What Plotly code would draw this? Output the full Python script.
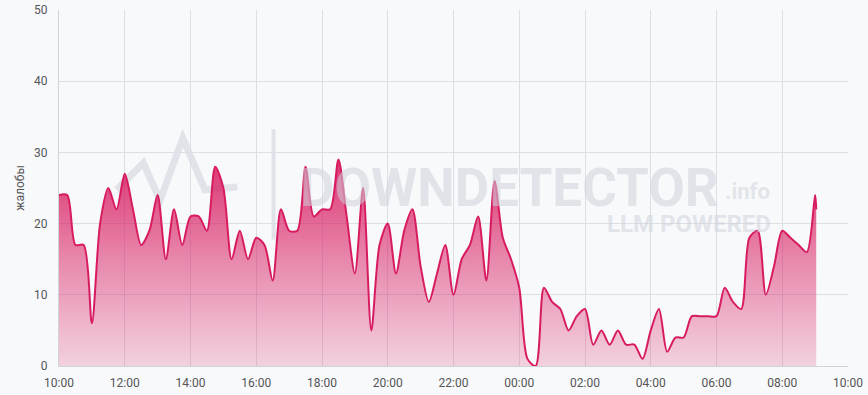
import plotly.graph_objects as go

times = [
    "10:00", "10:15", "10:30", "10:45", "11:00", "11:15", "11:30", "11:45",
    "12:00", "12:15", "12:30", "12:45", "13:00", "13:15", "13:30", "13:45",
    "14:00", "14:15", "14:30", "14:45", "15:00", "15:15", "15:30", "15:45",
    "16:00", "16:15", "16:30", "16:45", "17:00", "17:15", "17:30", "17:45",
    "18:00", "18:15", "18:30", "18:45", "19:00", "19:15", "19:30", "19:45",
    "20:00", "20:15", "20:30", "20:45", "21:00", "21:15", "21:30", "21:45",
    "22:00", "22:15", "22:30", "22:45", "23:00", "23:15", "23:30", "23:45",
    "00:00", "00:15", "00:30", "00:45", "01:00", "01:15", "01:30", "01:45",
    "02:00", "02:15", "02:30", "02:45", "03:00", "03:15", "03:30", "03:45",
    "04:00", "04:15", "04:30", "04:45", "05:00", "05:15", "05:30", "05:45",
    "06:00", "06:15", "06:30", "06:45", "07:00", "07:15", "07:30", "07:45",
    "08:00", "08:15", "08:30", "08:45", "09:00", "09:02",
]
complaints = [
    24, 24, 17, 17, 6, 20, 25, 22,
    27, 22, 17, 19, 24, 15, 22, 17,
    21, 21, 19, 28, 25, 15, 19, 15,
    18, 17, 12, 22, 19, 19, 28, 21,
    22, 22, 29, 21, 13, 25, 5, 17,
    20, 13, 19, 22, 14, 9, 13, 17,
    10, 15, 17, 21, 12, 26, 18, 15,
    11, 1, 0, 11, 9, 8, 5, 7,
    8, 3, 5, 3, 5, 3, 3, 1,
    5, 8, 2, 4, 4, 7, 7, 7,
    7, 11, 9, 8, 18, 19, 10, 14,
    19, 18, 17, 16, 24, 22,
]
tick_labels = ["10:00", "12:00", "14:00", "16:00", "18:00", "20:00", "22:00",
               "00:00", "02:00", "04:00", "06:00", "08:00", "10:00"]
y_ticks = [0, 10, 20, 30, 40, 50]

# build datetimes: times before 10:00 belong to the next day
x = []
for t in times:
    h = int(t[:2])
    day = "2024-01-01" if h >= 10 else "2024-01-02"
    x.append(f"{day} {t}")

tick_vals = []
for i, lab in enumerate(tick_labels):
    h = int(lab[:2])
    day = "2024-01-01" if (h >= 10 and i < len(tick_labels) - 1) else "2024-01-02"
    tick_vals.append(f"{day} {lab}")

line_color = "#d81b60"

fig = go.Figure()
fig.add_trace(go.Scatter(
    x=x, y=complaints,
    mode="lines",
    line=dict(color=line_color, width=2, shape="spline", smoothing=0.8),
    fill="tozeroy",
    fillgradient=dict(
        type="vertical",
        start=0, stop=29,
        colorscale=[[0, "rgba(216,27,96,0.18)"], [0.5, "rgba(216,27,96,0.5)"], [1, "rgba(216,27,96,0.88)"]],
    ),
    hoverinfo="skip",
    showlegend=False,
))

wm = "rgba(205,210,218,0.55)"
# watermark logo
fig.add_shape(type="path", xref="paper", yref="paper",
              path="M 0.073 0.495 L 0.107 0.57 L 0.128 0.465 L 0.157 0.64 L 0.185 0.495 L 0.226 0.503",
              line=dict(color=wm, width=7), layer="below")
fig.add_shape(type="line", xref="paper", yref="paper",
              x0=0.272, x1=0.272, y0=0.355, y1=0.665,
              line=dict(color=wm, width=4), layer="below")
fig.add_annotation(text="<b>DOWNDETECTOR</b>", xref="paper", yref="paper",
                   x=0.303, y=0.50, xanchor="left", yanchor="middle", showarrow=False,
                   height=44,
                   font=dict(family="Roboto, Arial, sans-serif", size=53, color=wm))
fig.add_annotation(text="<b>.info</b>", xref="paper", yref="paper",
                   x=0.842, y=0.49, xanchor="left", yanchor="middle", showarrow=False,
                   font=dict(family="Roboto, Arial, sans-serif", size=22, color=wm))
fig.add_annotation(text="<b>LLM POWERED</b>", xref="paper", yref="paper",
                   x=0.905, y=0.40, xanchor="right", yanchor="middle", showarrow=False,
                   font=dict(family="Roboto, Arial, sans-serif", size=24, color=wm))

fig.update_layout(
    width=868, height=395,
    margin=dict(l=59, r=20, t=10, b=29),
    paper_bgcolor="#f8f9fb",
    plot_bgcolor="#f8f9fb",
    font=dict(family="Roboto, Arial, sans-serif", size=12, color="#555"),
    xaxis=dict(
        type="date",
        range=[tick_vals[0], tick_vals[-1]],
        tickvals=tick_vals, ticktext=tick_labels,
        showgrid=True, gridcolor="#dcdfe5", gridwidth=1,
        showline=True, linecolor="#cfd3da",
        zeroline=False, ticks="",
        ticklabelstandoff=6,
        automargin=False,
        tickfont=dict(size=12, color="#555"),
    ),
    yaxis=dict(
        range=[0, 50], tickvals=y_ticks,
        showgrid=True, gridcolor="#dcdfe5", gridwidth=1,
        showline=True, linecolor="#cfd3da",
        zeroline=False, ticks="",
        ticklabelstandoff=8,
        automargin=False,
        title=dict(text="жалобы", font=dict(size=12, color="#555"), standoff=6),
        tickfont=dict(size=12, color="#555"),
    ),
)

fig.write_html("out.html")
